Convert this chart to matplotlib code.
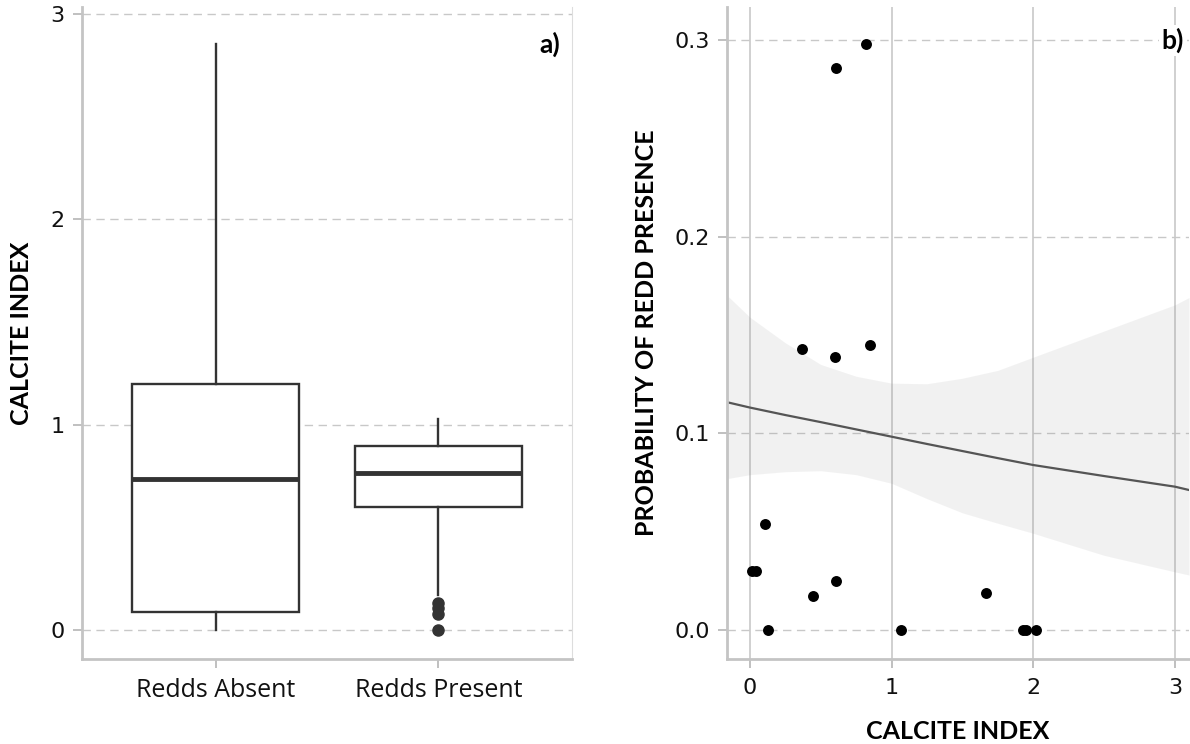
import matplotlib
matplotlib.use('Agg')
import matplotlib.pyplot as plt

# ---------------- data ----------------
categories = ['Redds Absent', 'Redds Present']
box_whislo = [0.0, 0.17]
box_q1 = [0.088, 0.601]
box_med = [0.734, 0.763]
box_q3 = [1.198, 0.898]
box_whishi = [2.855, 1.028]
box_fliers = [[], [0.133, 0.106, 0.076, 0.0]]
left_yticks = [0, 1, 2, 3]

scatter_x = [0.106, 0.012, 0.040, 0.442, 0.609, 0.129, 1.065, 1.664,
             1.927, 1.946, 2.022, 0.820, 0.609, 0.367, 0.604, 0.848]
scatter_y = [0.0537, 0.030, 0.030, 0.0175, 0.025, 0.0, 0.0, 0.0188,
             0.0, 0.0, 0.0, 0.2978, 0.2856, 0.1429, 0.139, 0.1449]

fit_x = [-0.16, 0.0, 0.25, 0.5, 0.75, 1.0, 1.25, 1.5, 1.75, 2.0, 2.5, 3.0, 3.1]
fit_y = [0.1158, 0.1131, 0.1093, 0.1057, 0.1020, 0.0983, 0.0946, 0.0910,
         0.0874, 0.0839, 0.0783, 0.0729, 0.0712]
fit_hi = [0.170, 0.159, 0.146, 0.135, 0.129, 0.1255, 0.1252, 0.128,
          0.132, 0.1387, 0.152, 0.1653, 0.169]
fit_lo = [0.077, 0.079, 0.0805, 0.081, 0.079, 0.0746, 0.0668, 0.0596,
          0.0543, 0.0492, 0.038, 0.0296, 0.028]
right_xticks = [0, 1, 2, 3]
right_yticks = [0.0, 0.1, 0.2, 0.3]
right_yticklabels = ['0.0', '0.1', '0.2', '0.3']

# ---------------- style ----------------
GRID = '#c8c8c8'
SPINE = '#c4c4c4'
DARK = '#333333'
title_font = dict(family='Lato', weight='bold', size=18)
num_font = dict(family='DejaVu Sans', size=16)

fig = plt.figure(figsize=(11.9, 7.44), dpi=100)
ax1 = fig.add_axes([82 / 1190, 85 / 744, 490 / 1190, 652 / 744])
ax2 = fig.add_axes([727 / 1190, 85 / 744, 462 / 1190, 652 / 744])


def style_axes(ax):
    for s in ['top', 'right']:
        ax.spines[s].set_visible(False)
    for s in ['left', 'bottom']:
        ax.spines[s].set_color(SPINE)
        ax.spines[s].set_linewidth(2.0)
    ax.tick_params(axis='both', color='#bbbbbb', length=6.5, width=1.3,
                   labelcolor='#111111')
    ax.tick_params(axis='y', pad=6)
    ax.tick_params(axis='x', pad=7)
    ax.set_axisbelow(True)


# ---------------- panel a ----------------
stats = []
for i, lab in enumerate(categories):
    stats.append(dict(label=lab, whislo=box_whislo[i], q1=box_q1[i], med=box_med[i],
                      q3=box_q3[i], whishi=box_whishi[i], fliers=box_fliers[i]))

ax1.bxp(stats, positions=[0, 1], widths=0.75, showcaps=False, patch_artist=True,
        boxprops=dict(facecolor='white', edgecolor=DARK, linewidth=1.7),
        whiskerprops=dict(color=DARK, linewidth=1.7),
        medianprops=dict(color=DARK, linewidth=3.5, solid_capstyle='butt'),
        flierprops=dict(marker='o', markerfacecolor=DARK, markeredgecolor=DARK,
                        markersize=8, linestyle='none'))
ax1.set_xlim(-0.6, 1.6)
ax1.set_ylim(-0.141, 3.035)
ax1.set_yticks(left_yticks)
ax1.set_yticklabels([str(t) for t in left_yticks], **num_font)
ax1.set_xticks([0, 1])
ax1.set_xticklabels(categories, family='Open Sans', size=18)
style_axes(ax1)
ax1.spines['right'].set_visible(True)
ax1.spines['right'].set_color('#dddddd')
ax1.spines['right'].set_linewidth(0.8)
ax1.yaxis.grid(True, color=GRID, linestyle=(0, (6, 4)), linewidth=1.0)
ax1.set_ylabel('CALCITE INDEX', **title_font)
ax1.yaxis.set_label_coords(-0.10, 0.5)
ax1.text(0.9755, 0.943, 'a)', transform=ax1.transAxes, ha='right', va='center',
         family='Lato', weight='bold', size=19,
         bbox=dict(facecolor='white', edgecolor='none', pad=1))

# ---------------- panel b ----------------
ax2.fill_between(fit_x, fit_lo, fit_hi, color='#7f7f7f', alpha=0.1, linewidth=0)
ax2.plot(fit_x, fit_y, color='#555555', linewidth=1.6)
ax2.scatter(scatter_x, scatter_y, s=62, color='black', zorder=3, linewidths=0)
ax2.set_xlim(-0.162, 3.1)
ax2.set_ylim(-0.0147, 0.3167)
ax2.set_xticks(right_xticks)
ax2.set_xticklabels([str(t) for t in right_xticks], **num_font)
ax2.set_yticks(right_yticks)
ax2.set_yticklabels(right_yticklabels, **num_font)
style_axes(ax2)
ax2.yaxis.grid(True, color=GRID, linestyle=(0, (6, 4)), linewidth=1.0)
ax2.xaxis.grid(True, color=GRID, linestyle='-', linewidth=1.2)
ax2.set_ylabel('PROBABILITY OF REDD PRESENCE', **title_font)
ax2.yaxis.set_label_coords(-0.149, 0.5)
ax2.set_xlabel('CALCITE INDEX', **title_font)
ax2.xaxis.set_label_coords(0.5, -0.093)
ax2.text(0.989, 0.949, 'b)', transform=ax2.transAxes, ha='right', va='center',
         family='Lato', weight='bold', size=19,
         bbox=dict(facecolor='white', edgecolor='none', pad=2), zorder=5)

fig.savefig('out.png', dpi=100)
